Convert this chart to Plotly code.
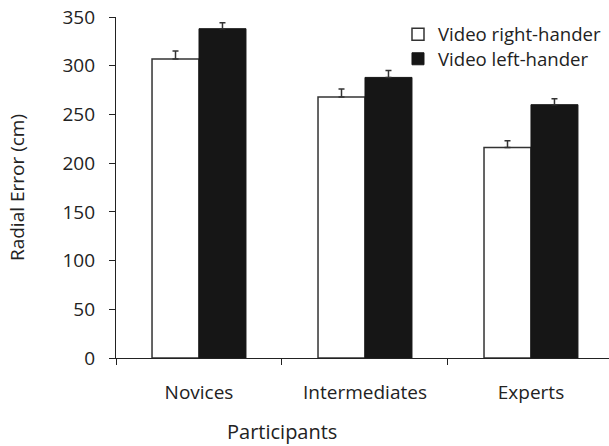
import plotly.graph_objects as go

# Radial error by participant group and video handedness
groups = ["Novices", "Intermediates", "Experts"]
right_hander = [307, 268, 216]
right_hander_err = [8, 8, 7]
left_hander = [338, 288, 260]
left_hander_err = [6, 7, 6]
y_ticks = [0, 50, 100, 150, 200, 250, 300, 350]

FONT = "Open Sans"
INK = "#222222"

fig = go.Figure()
fig.add_trace(go.Bar(
    name="Video right-hander", x=groups, y=right_hander, legend="legend",
    marker=dict(color="white", line=dict(color="#333333", width=1.5)),
    error_y=dict(type="data", array=right_hander_err, arrayminus=[0] * 3,
                 symmetric=False, color="#333333", thickness=1.5, width=3),
))
fig.add_trace(go.Bar(
    name="Video left-hander", x=groups, y=left_hander, legend="legend2",
    marker=dict(color="#161616", line=dict(color="#161616", width=1)),
    error_y=dict(type="data", array=left_hander_err, arrayminus=[0] * 3,
                 symmetric=False, color="#333333", thickness=1.5, width=3),
))

legend_style = dict(xanchor="left", yanchor="top", bgcolor="rgba(0,0,0,0)",
                    font=dict(size=18.6), itemclick=False)

fig.update_layout(
    width=609, height=446,
    margin=dict(l=116, r=0, t=17, b=88, autoexpand=False),
    paper_bgcolor="white", plot_bgcolor="white",
    font=dict(family=FONT, size=19, color=INK),
    barmode="group", bargap=0.434, bargroupgap=0,
    showlegend=True,
    legend=dict(x=0.572, y=1.004, **legend_style),
    legend2=dict(x=0.572, y=0.932, **legend_style),
    xaxis=dict(
        range=[-0.5, 2.47], showline=True, linecolor=INK, linewidth=1.2,
        ticks="outside", tickson="boundaries", ticklen=6, tickcolor=INK,
        tickwidth=1.2, showgrid=False, zeroline=False,
        ticklabelstandoff=17,
    ),
    yaxis=dict(
        range=[0, 350], tickvals=y_ticks, showline=True, linecolor=INK,
        linewidth=1.2, ticks="outside", ticklen=6, tickcolor=INK, tickwidth=1.2,
        showgrid=False, zeroline=False, ticklabelstandoff=10,
        title=dict(text="Radial Error (cm)", standoff=32, font=dict(size=19)),
    ),
    annotations=[dict(
        text="Participants", xref="x", x=0.5, yref="paper", y=-0.215,
        xanchor="center", yanchor="middle", showarrow=False,
        font=dict(size=20),
    )],
)

fig.write_html("out.html")
